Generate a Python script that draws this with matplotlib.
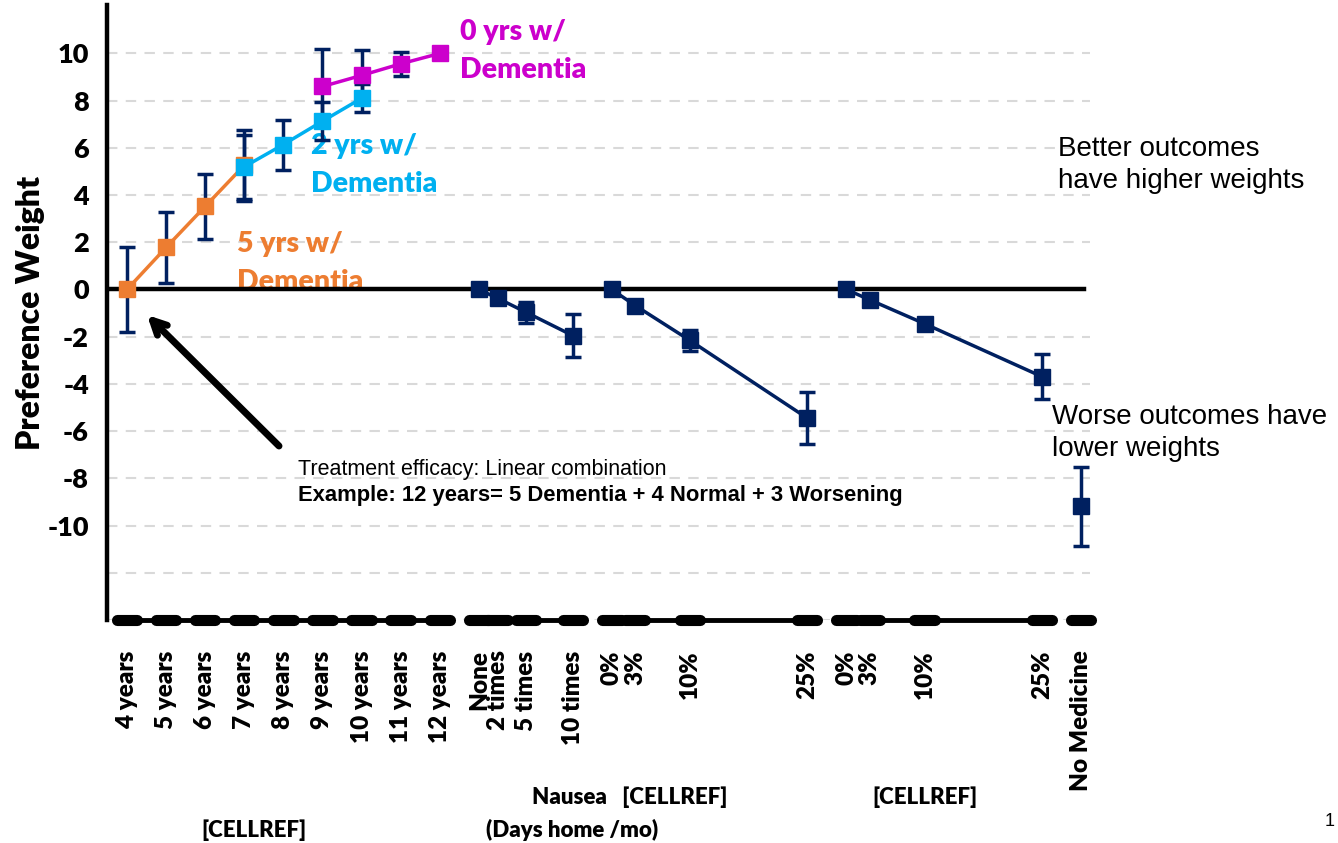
import matplotlib
matplotlib.use("Agg")
import matplotlib.pyplot as plt
import matplotlib.patches as mpatches
import numpy as np

# ---- data ----
years = [4, 5, 6, 7, 8, 9, 10, 11, 12]
year_labels = ["4 years", "5 years", "6 years", "7 years", "8 years",
               "9 years", "10 years", "11 years", "12 years"]

nausea_levels = [0, 2, 5, 10]
nausea_labels = ["None", "2 times", "5 times", "10 times"]
nausea_w = [0.0, -0.37, -0.96, -1.95]
nausea_err = [0.0, 0.0, 0.45, 0.9]

risk1_levels = [0, 3, 10, 25]
risk1_labels = ["0%", "3%", "10%", "25%"]
risk1_w = [0.0, -0.68, -2.16, -5.45]
risk1_err = [0.0, 0.0, 0.45, 1.1]

risk2_levels = [0, 3, 10, 25]
risk2_labels = ["0%", "3%", "10%", "25%"]
risk2_w = [0.0, -0.44, -1.45, -3.69]
risk2_err = [0.0, 0.0, 0.2, 0.95]

nomed_label = "No Medicine"
nomed_w = -9.19
nomed_err = 1.66

# life-years curves (years, weight, error)
dem5_years = [4, 5, 6, 7]
dem5_w = [0.0, 1.78, 3.52, 5.26]
dem5_err = [1.8, 1.5, 1.37, 1.5]

dem2_years = [7, 8, 9, 10]
dem2_w = [5.2, 6.14, 7.13, 8.1]
dem2_err = [1.35, 1.06, 0.8, 0.6]

dem0_years = [9, 10, 11, 12]
dem0_w = [8.6, 9.07, 9.56, 10.0]
dem0_err = [1.6, 1.06, 0.5, 0.0]

# ---- x layout: one unit per year, attributes scaled to their levels ----
def yr_x(v):
    return np.asarray(v, dtype=float) - 4

nausea_x = 9 + 0.24 * np.array(nausea_levels)
risk1_x = 12.4 + 0.2 * np.array(risk1_levels)
risk2_x = 18.4 + 0.2 * np.array(risk2_levels)
nomed_x = 24.4

navy = "#002060"
orange = "#ed7d31"
cyan = "#00b0f0"
magenta = "#cc00cc"
bold_font = ["Lato", "DejaVu Sans"]
arial = ["Liberation Sans", "DejaVu Sans"]
heavy = 800

fig = plt.figure(figsize=(13.38, 8.43), dpi=100)
ax = fig.add_axes([0.08, 0.2646, 0.7346, 0.7294])
ax.set_xlim(-0.51, 24.63)
ax.set_ylim(-14, 12.05)

# gridlines
for g in range(-14, 11, 2):
    if g != 0:
        ax.axhline(g, color="#d9d9d9", lw=1.5, ls=(0, (5, 4)), zorder=0)
ax.axhline(0, color="black", lw=3.2, zorder=2, xmax=0.994)

# error bars helper
def eb(x, y, e):
    ax.errorbar(x, y, yerr=e, fmt="none", ecolor=navy, elinewidth=2.5,
                capsize=6, capthick=2.5, zorder=3)

sq = dict(marker="s", markersize=12, lw=2.5, zorder=4)

eb(yr_x(dem5_years), dem5_w, dem5_err)
eb(yr_x(dem2_years), dem2_w, dem2_err)
eb(yr_x(dem0_years), dem0_w, dem0_err)
ax.plot(yr_x(dem5_years), dem5_w, color=orange, **sq)
ax.plot(yr_x(dem2_years), dem2_w, color=cyan, **sq)
ax.plot(yr_x(dem0_years), dem0_w, color=magenta, **sq)

for xs, ws, es in [(nausea_x, nausea_w, nausea_err),
                   (risk1_x, risk1_w, risk1_err),
                   (risk2_x, risk2_w, risk2_err),
                   ([nomed_x], [nomed_w], [nomed_err])]:
    eb(xs, ws, es)
    ax.plot(xs, ws, color=navy, **sq)

# bottom category "axis" with capsule ticks per group
groups_x = [yr_x(years), nausea_x, risk1_x, risk2_x, np.array([nomed_x])]
for gx in groups_x:
    ax.plot([gx[0], gx[-1]], [-14, -14], color="black", lw=3.5,
            clip_on=False, zorder=5)
    lc = ax.hlines(np.full(len(gx), -14.0), gx - 0.26, gx + 0.26, color="black",
                   lw=8, clip_on=False, zorder=5)
    lc.set_capstyle("round")

# axes styling
for s in ["top", "right", "bottom"]:
    ax.spines[s].set_visible(False)
ax.spines["left"].set_linewidth(3.2)
ax.spines["left"].set_position(("data", -0.51))

ax.set_yticks(range(-10, 11, 2))
ax.set_yticklabels([str(v) for v in range(-10, 11, 2)],
                   fontsize=19.5, fontweight=heavy, family=bold_font)
ax.tick_params(axis="y", length=0, pad=13)

all_x = np.concatenate(groups_x)
all_labels = year_labels + nausea_labels + risk1_labels + risk2_labels + [nomed_label]
ax.set_xticks(all_x)
ax.set_xticklabels(all_labels, rotation=90, fontsize=17.5, fontweight=heavy,
                   family=bold_font, va="top", ha="center")
ax.tick_params(axis="x", length=0, pad=22)

ax.set_ylabel("Preference Weight", fontsize=23, fontweight=heavy,
              family=bold_font, labelpad=2)

# curve labels, one text per line
lab = dict(fontsize=20.5, fontweight=heavy, family=bold_font, va="baseline")
ax.text(8.52, 10.55, "0 yrs w/", color=magenta, zorder=6, **lab)
ax.text(8.52, 8.94, "Dementia", color=magenta, zorder=6, **lab)
ax.text(4.7, 5.76, "2 yrs w/", color=cyan, zorder=2.5, **lab)
ax.text(4.7, 4.11, "Dementia", color=cyan, zorder=2.5, **lab)
ax.text(2.81, 1.57, "5 yrs w/", color=orange, zorder=1, **lab)
ax.text(2.81, -0.04, "Dementia", color=orange, zorder=1, **lab)
# the orange label runs under the zero line; hide the part below it
ax.add_patch(mpatches.Rectangle((2.6, -0.8), 4.0, 0.8, facecolor="white",
                                edgecolor="none", zorder=1.5))

# side notes
fig.text(1058 / 1338, 1 - 165 / 843, "Better outcomes\nhave higher weights",
         fontsize=20, family=arial, va="center", ha="left", linespacing=1.25)
fig.text(1052 / 1338, 1 - 433 / 843, "Worse outcomes have\nlower weights",
         fontsize=20, family=arial, va="center", ha="left", linespacing=1.25)

fig.text(298 / 1338, 1 - 470 / 843, "Treatment efficacy: Linear combination",
         fontsize=15.5, family=arial, va="center", ha="left")
fig.text(298 / 1338, 1 - 496 / 843,
         "Example: 12 years= 5 Dementia + 4 Normal + 3 Worsening",
         fontsize=15.8, family=arial, fontweight="bold", va="center", ha="left")

ax.annotate("", xy=(147 / 1338, 1 - 315 / 843), xycoords="figure fraction",
            xytext=(279 / 1338, 1 - 446 / 843), textcoords="figure fraction",
            arrowprops=dict(arrowstyle="->,head_length=1.0,head_width=0.5",
                            lw=5, color="black", shrinkA=0, shrinkB=0))

# group captions
cap = dict(fontsize=16, fontweight=heavy, family=bold_font, ha="center",
           va="center")
fig.text(254 / 1338, 1 - 830 / 843, "[CELLREF]", **cap)
fig.text(630 / 1338, 1 - 797 / 843, "Nausea   [CELLREF]", **cap)
fig.text(572 / 1338, 1 - 830 / 843, "(Days home /mo)", **cap)
fig.text(925 / 1338, 1 - 797 / 843, "[CELLREF]", **cap)
fig.text(1330 / 1338, 1 - 822 / 843, "1", fontsize=13, family=arial,
         ha="center", va="center")

fig.savefig("out.png", dpi=100)
